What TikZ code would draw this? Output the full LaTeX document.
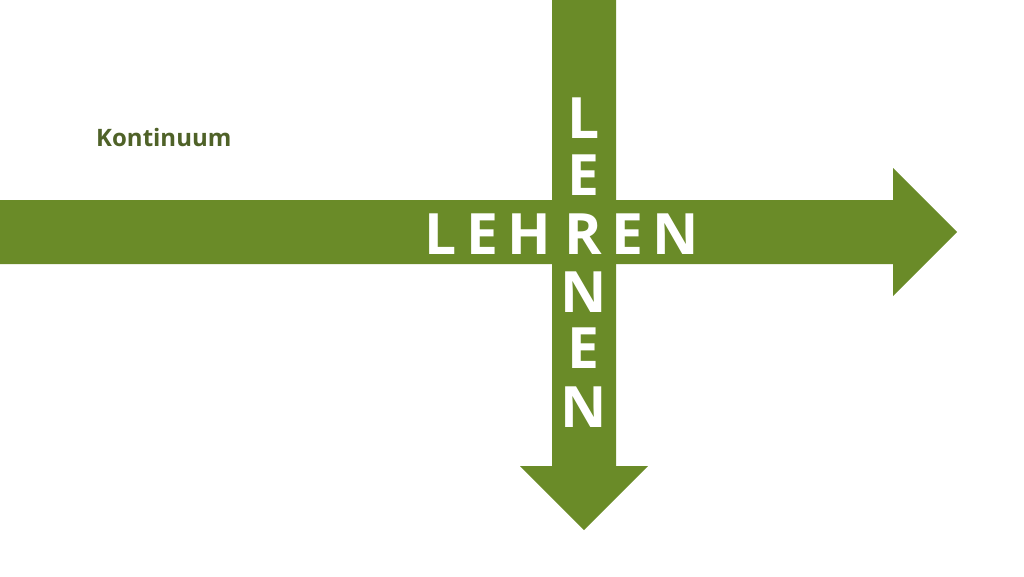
\documentclass[tikz,border=0pt]{standalone}
\usepackage{fontspec}
\setmainfont{Open Sans}
\definecolor{arrowgreen}{RGB}{106,139,40}
\definecolor{labelgreen}{RGB}{79,98,40}
\begin{document}
\begin{tikzpicture}[x=1pt,y=-1pt,
  bigletter/.style={inner sep=0pt,anchor=base,text=white,font=\bfseries\fontsize{57}{60}\selectfont},
  arrowshape/.style={fill=arrowgreen,draw=none}]
\useasboundingbox (0,0) rectangle (1024,576);
% horizontal arrow
\fill[arrowshape] (0,200) -- (893,200) -- (893,168) -- (957,232) -- (893,296) -- (893,264) -- (0,264) -- cycle;
% vertical arrow
\fill[arrowshape] (552,0) -- (616,0) -- (616,466) -- (648,466) -- (584,530) -- (520,466) -- (552,466) -- cycle;
% LEHREN
\node[bigletter] (h1) at (441,254) {L};
\node[bigletter] (h2) at (482,254) {E};
\node[bigletter] (h3) at (529,254) {H};
\node[bigletter] (h4) at (583.5,254) {R};
\node[bigletter] (h5) at (627.5,254) {E};
\node[bigletter] (h6) at (676,254) {N};
% LERNEN (vertical, sharing R)
\node[bigletter] (v1) at (583.5,138) {L};
\node[bigletter] (v2) at (583.5,195.5) {E};
\node[bigletter] (v4) at (583.5,312) {N};
\node[bigletter] (v5) at (583.5,368.5) {E};
\node[bigletter] (v6) at (583.5,427) {N};
% label
\node[inner sep=0pt,anchor=base west,text=labelgreen,font=\bfseries\fontsize{24}{28}\selectfont] (kont) at (96,146) {Kontinuum};
\end{tikzpicture}
\end{document}
